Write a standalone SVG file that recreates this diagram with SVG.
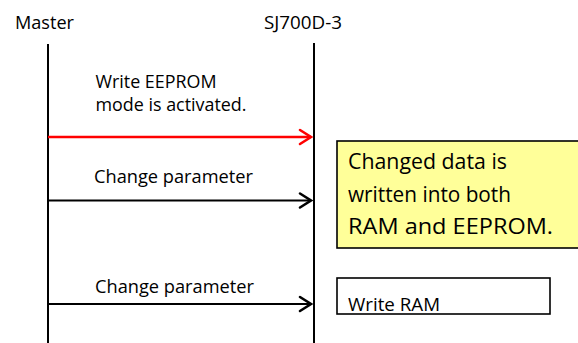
<svg xmlns="http://www.w3.org/2000/svg" width="578" height="343" viewBox="0 0 578 343">
<style>
text{font-family:"Open Sans","Liberation Sans",Arial,sans-serif;fill:#000}
.t{font-size:18px}
.b{font-size:22px}
.life{stroke:#000;stroke-width:2;fill:none}
.msg{stroke:#000;stroke-width:2.2;fill:none}
.red{stroke:#ff0000;stroke-width:2.6}
.head{stroke-width:2.6;fill:none;stroke-linecap:round;stroke-linejoin:miter}
</style>
<rect width="578" height="343" fill="#fff"/>
<g id="master">
<text class="t" x="15" y="29" textLength="59" lengthAdjust="spacingAndGlyphs">Master</text>
<line class="life" x1="48" y1="44" x2="48" y2="343"/>
</g>
<g id="sj700d">
<text class="t" x="264" y="28.5" textLength="78" lengthAdjust="spacingAndGlyphs">SJ700D-3</text>
<line class="life" x1="314" y1="43" x2="314" y2="343"/>
</g>
<g id="note-eeprom">
<rect x="337" y="141" width="245" height="107" fill="#ffff99" stroke="#000" stroke-width="1.6"/>
<text class="b" x="348" y="168.5" textLength="159" lengthAdjust="spacingAndGlyphs">Changed data is</text>
<text class="b" x="348" y="201.5" textLength="163" lengthAdjust="spacingAndGlyphs">written into both</text>
<text class="b" x="348" y="233.5" textLength="205" lengthAdjust="spacingAndGlyphs">RAM and EEPROM.</text>
</g>
<g id="note-ram">
<rect x="337" y="278" width="213" height="36" fill="#fff" stroke="#000" stroke-width="1.6"/>
<text class="t" x="348" y="311" textLength="92" lengthAdjust="spacingAndGlyphs">Write RAM</text>
</g>
<g id="connectors">
<g id="msg-eeprom">
<line class="msg red" x1="48" y1="137" x2="311" y2="137"/>
<polyline class="head red" points="300,130 311,137 300,144"/>
<text class="t" x="95.5" y="87.5" textLength="121" lengthAdjust="spacingAndGlyphs">Write EEPROM</text>
<text class="t" x="95.5" y="110.5" textLength="151" lengthAdjust="spacingAndGlyphs">mode is activated.</text>
</g>
<g id="msg-change1">
<line class="msg" x1="48" y1="200.5" x2="311" y2="200.5"/>
<polyline class="head" points="300,193.5 311,200.5 300,207.5" stroke="#000"/>
<text class="t" x="94" y="183" textLength="159" lengthAdjust="spacingAndGlyphs">Change parameter</text>
</g>
<g id="msg-change2">
<line class="msg" x1="48" y1="304" x2="311" y2="304"/>
<polyline class="head" points="300,297 311,304 300,311" stroke="#000"/>
<text class="t" x="95" y="293" textLength="159" lengthAdjust="spacingAndGlyphs">Change parameter</text>
</g>
</g>
</svg>
